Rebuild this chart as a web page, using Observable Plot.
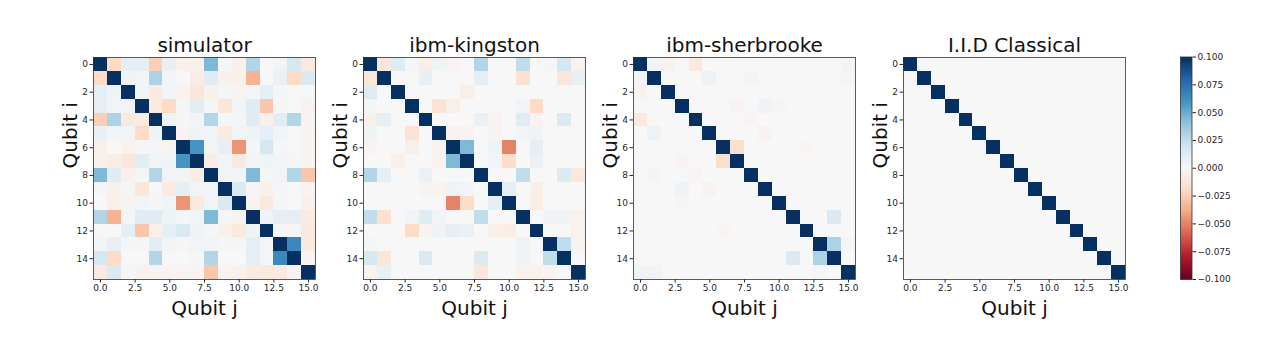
<!DOCTYPE html>
<html><head><meta charset="utf-8">
<script src="https://cdn.jsdelivr.net/npm/d3@7"></script>
<script src="https://cdn.jsdelivr.net/npm/@observablehq/plot@0.6"></script>
<style>
body{margin:0;background:#fff;}
#chart{position:relative;width:1288px;height:354px;font-family:"DejaVu Sans",sans-serif;overflow:hidden;}
#chart svg{position:absolute;top:0;overflow:visible;}
</style></head><body><div id="chart"></div>
<script>
const titles = ["simulator", "ibm-kingston", "ibm-sherbrooke", "I.I.D Classical"];
const xTicks = [0, 2.5, 5, 7.5, 10, 12.5, 15];
const yTicks = [0, 2, 4, 6, 8, 10, 12, 14];
const colorbarTicks = [-0.1, -0.075, -0.05, -0.025, 0, 0.025, 0.05, 0.075, 0.1];

const simulator = [
 [1, -0.02, 0.01, 0.01, -0.025, 0.008, -0.005, -0.005, 0.045, 0.002, -0.005, 0.03, 0, 0.003, 0.018, -0.01],
 [-0.02, 1, 0.005, 0.003, 0.032, 0.003, 0, -0.008, 0.012, -0.005, -0.005, -0.035, 0, 0.008, -0.02, 0.015],
 [0.01, 0.005, 1, 0.003, -0.01, 0.003, -0.004, -0.012, -0.005, 0.002, -0.003, 0.002, 0.01, 0.002, 0, 0.001],
 [0.01, 0.003, 0.003, 1, -0.009, -0.02, 0.002, 0.011, 0.002, -0.012, 0.003, 0.012, -0.028, 0.002, 0, -0.004],
 [-0.025, 0.032, -0.01, -0.009, 1, 0.005, 0.002, 0.003, 0.03, 0.001, 0.002, 0.012, -0.005, 0.011, 0.03, -0.003],
 [0.008, 0.003, 0.003, -0.02, 0.005, 1, -0.003, 0.004, 0.003, -0.009, 0.003, 0.005, 0.01, 0.003, 0.001, -0.003],
 [-0.005, 0, -0.004, 0.002, 0.002, -0.003, 1, 0.06, 0.003, 0.009, -0.045, 0.002, 0.018, 0.002, 0, -0.003],
 [-0.005, -0.008, -0.012, 0.011, 0.003, 0.004, 0.06, 1, -0.008, 0.003, -0.01, 0.003, 0.005, 0.003, 0.002, -0.003],
 [0.045, 0.012, -0.005, 0.002, 0.03, 0.003, 0.003, -0.008, 1, 0.003, 0.003, 0.045, 0.002, 0.003, 0.03, -0.028],
 [0.002, -0.005, 0.002, -0.012, 0.001, -0.009, 0.009, 0.003, 0.003, 1, 0.015, 0.002, -0.005, 0.002, 0, -0.003],
 [0, -0.005, -0.003, 0.003, 0.002, 0.003, -0.045, -0.01, 0.003, 0.015, 1, -0.003, -0.01, 0.002, 0, -0.005],
 [0.03, -0.035, 0.002, 0.012, 0.012, 0.005, 0.002, 0.003, 0.045, 0.002, -0.003, 1, 0.005, 0.01, 0.01, -0.009],
 [0, 0, 0.01, -0.028, -0.005, 0.01, 0.016, 0.004, 0.002, -0.005, -0.01, 0.005, 1, 0.002, 0.002, -0.01],
 [0.003, 0.008, 0.002, 0.002, 0.011, 0.003, 0.002, 0.003, 0.003, 0.002, 0.002, 0.01, 0.002, 1, 0.065, -0.01],
 [0.018, -0.02, 0, 0, 0.03, 0.001, 0, 0.002, 0.03, 0, 0, 0.01, 0.002, 0.065, 1, -0.003],
 [-0.01, 0.015, 0.001, -0.004, -0.003, -0.003, -0.003, -0.003, -0.028, -0.003, -0.005, -0.009, -0.01, -0.01, -0.003, 1]
];

const kingston = [
 [1, -0.012, 0.013, 0.002, -0.006, 0.005, -0.003, 0, 0.03, 0, 0, 0.025, 0, 0.002, 0.018, -0.004],
 [-0.012, 1, 0, 0, 0.009, 0, 0, 0, 0.01, 0, 0, -0.016, 0, 0, -0.012, 0.008],
 [0.013, 0, 1, 0, 0, 0, 0, -0.006, 0, 0, 0, 0, 0, 0, 0, 0],
 [0.002, 0, 0, 1, 0, -0.015, -0.006, 0, 0, 0, 0, 0.003, -0.02, 0, 0, 0],
 [-0.006, 0.009, 0, 0, 1, 0, 0, 0, 0.007, -0.003, 0, 0.012, -0.003, 0, 0.015, 0],
 [0.005, 0, 0, -0.015, 0, 1, -0.004, -0.003, 0, -0.003, 0, 0.003, 0.004, 0, 0, 0],
 [-0.003, 0, 0, -0.006, 0, -0.004, 1, 0.045, 0, 0.004, -0.05, 0, 0.01, 0, 0, 0],
 [0, 0, -0.006, 0, 0, -0.003, 0.045, 1, 0, 0.003, -0.019, 0, 0.007, 0, 0, 0],
 [0.03, 0.01, 0, 0, 0.007, 0, 0, 0, 1, 0, 0, 0.025, 0, 0, 0.014, -0.011],
 [0, 0, 0, 0, -0.003, -0.003, 0.004, 0.003, 0, 1, 0.01, 0, -0.006, 0, 0, 0],
 [0, 0, 0, 0, 0, 0, -0.05, -0.019, 0, 0.01, 1, 0, -0.007, 0, 0, 0],
 [0.025, -0.016, 0, 0.003, 0.012, 0.003, 0, 0, 0.025, 0, 0, 1, 0, 0.004, 0.004, -0.004],
 [0, 0, 0, -0.02, -0.003, 0.004, 0.01, 0.007, 0, -0.006, -0.007, 0, 1, 0, 0, -0.004],
 [0.002, 0, 0, 0, 0, 0, 0, 0, 0, 0, 0, 0.004, 0, 1, 0.025, -0.003],
 [0.018, -0.012, 0, 0, 0.015, 0, 0, 0, 0.014, 0, 0, 0.004, 0, 0.025, 1, 0],
 [-0.004, 0.008, 0, 0, 0, 0, 0, 0, -0.011, 0, 0, -0.004, -0.004, -0.003, 0, 1]
];

const sherbrooke = [
 [1, 0.003, -0.004, 0, -0.01, 0, 0, 0, 0, 0, 0, 0, 0, 0, 0, 0.003],
 [0.003, 1, 0, 0, 0, 0.006, 0, 0, -0.003, 0, 0, 0, 0, 0, 0, 0.002],
 [-0.004, 0, 1, 0, 0, 0, 0, 0, 0, 0, 0, 0, 0, 0, 0, 0],
 [0, 0, 0, 1, 0, 0, 0, -0.003, 0, 0.004, -0.002, 0, 0, 0, 0, 0],
 [-0.01, 0, 0, 0, 1, 0, 0, 0, -0.003, 0, 0, 0, 0, 0, 0, 0],
 [0, 0.006, 0, 0, 0, 1, 0, 0, 0, -0.004, 0, 0, 0, 0, 0, 0],
 [0, 0, 0, 0, 0, 0, 1, -0.018, 0, 0, 0, 0, -0.002, 0, 0, 0],
 [0, 0, 0, -0.003, 0, 0, -0.018, 1, 0, 0, 0, 0, 0, 0, 0, 0],
 [0, -0.003, 0, 0, -0.003, 0, 0, 0, 1, 0, 0, 0, 0, 0, 0, 0],
 [0, 0, 0, 0.004, 0, -0.004, 0, 0, 0, 1, 0, 0, 0, 0, 0, 0],
 [0, 0, 0, -0.002, 0, 0, 0, 0, 0, 0, 1, 0, 0, 0, 0, 0],
 [0, 0, 0, 0, 0, 0, 0, 0, 0, 0, 0, 1, 0, 0, 0.015, 0],
 [0, 0, 0, 0, 0, 0, -0.002, 0, 0, 0, 0, 0, 1, 0, 0, 0],
 [0, 0, 0, 0, 0, 0, 0, 0, 0, 0, 0, 0, 0, 1, 0.032, 0.002],
 [0, 0, 0, 0, 0, 0, 0, 0, 0, 0, 0, 0.015, 0, 0.032, 1, 0],
 [0.004, 0.004, 0, 0, 0, 0, 0, 0, 0, 0, 0, 0, 0, 0.002, 0, 1]
];

const iidClassical = [
 [1,0,0,0,0,0,0,0,0,0,0,0,0,0,0,0],
 [0,1,0,0,0,0,0,0,0,0,0,0,0,0,0,0],
 [0,0,1,0,0,0,0,0,0,0,0,0,0,0,0,0],
 [0,0,0,1,0,0,0,0,0,0,0,0,0,0,0,0],
 [0,0,0,0,1,0,0,0,0,0,0,0,0,0,0,0],
 [0,0,0,0,0,1,0,0,0,0,0,0,0,0,0,0],
 [0,0,0,0,0,0,1,0,0,0,0,0,0,0,0,0],
 [0,0,0,0,0,0,0,1,0,0,0,0,0,0,0,0],
 [0,0,0,0,0,0,0,0,1,0,0,0,0,0,0,0],
 [0,0,0,0,0,0,0,0,0,1,0,0,0,0,0,0],
 [0,0,0,0,0,0,0,0,0,0,1,0,0,0,0,0],
 [0,0,0,0,0,0,0,0,0,0,0,1,0,0,0,0],
 [0,0,0,0,0,0,0,0,0,0,0,0,1,0,0,0],
 [0,0,0,0,0,0,0,0,0,0,0,0,0,1,0,0],
 [0,0,0,0,0,0,0,0,0,0,0,0,0,0,1,0],
 [0,0,0,0,0,0,0,0,0,0,0,0,0,0,0,1]
];

const matrices = [simulator, kingston, sherbrooke, iidClassical];

// matplotlib RdBu stops (piecewise linear, -0.1 .. 0.1)
const rdbuStops = ["#67001f", "#b2182b", "#d6604d", "#f4a582", "#fddbc7", "#f7f7f7", "#d1e5f0", "#92c5de", "#4393c3", "#2166ac", "#053061"];
const colorScale = {
  type: "linear",
  domain: rdbuStops.map((_, q) => -0.1 + q * 0.02),
  range: rdbuStops,
  interpolate: "rgb",
  clamp: true
};
const baseStyle = {fontFamily: "DejaVu Sans, sans-serif", fontSize: "9px", color: "#262626", background: "transparent", overflow: "visible"};
const chart = document.getElementById("chart");

const frameLefts = [93.3, 363.3, 633.3, 903.3];
const mL = 73, frameW = 222, svgW = 300;

matrices.forEach((m, k) => {
  const cells = [];
  m.forEach((row, i) => row.forEach((v, j) => cells.push({i, j, v})));
  const svg = Plot.plot({
    width: svgW, height: 354,
    marginLeft: mL, marginRight: svgW - mL - frameW, marginTop: 57, marginBottom: 75,
    style: baseStyle,
    x: {domain: [-0.5, 15.5], ticks: xTicks, tickFormat: d3.format(".1f"), tickSize: 3.5, tickPadding: 2, label: null},
    y: {domain: [-0.5, 15.5], reverse: true, ticks: yTicks, tickSize: 3.5, tickPadding: 2, label: null},
    color: colorScale,
    marks: [
      Plot.rect(cells, {x1: d => d.j - 0.5, x2: d => d.j + 0.5, y1: d => d.i - 0.5, y2: d => d.i + 0.5, fill: "v", shapeRendering: "crispEdges"}),
      Plot.frame({stroke: "#333", strokeWidth: 0.8}),
      Plot.text([titles[k]], {text: d => d, frameAnchor: "top", dy: -12, fontSize: 20, lineAnchor: "middle", fill: "#111"}),
      Plot.text(["Qubit j"], {text: d => d, frameAnchor: "bottom", dy: 29, fontSize: 20, lineAnchor: "middle", fill: "#111"}),
      Plot.text(["Qubit i"], {text: d => d, frameAnchor: "left", dx: -23, rotate: -90, fontSize: 20, lineAnchor: "middle", fill: "#111"})
    ]
  });
  svg.style.left = (frameLefts[k] - mL) + "px";
  chart.appendChild(svg);
});

// colorbar
const cbL = 30, cbW = 11.5, cbSvgW = 140;
const cb = Plot.plot({
  width: cbSvgW, height: 354,
  marginLeft: cbL, marginRight: cbSvgW - cbL - cbW, marginTop: 56.5, marginBottom: 75,
  style: baseStyle,
  x: {domain: [0, 1], axis: null},
  y: {domain: [-0.1, 0.1], ticks: colorbarTicks, tickFormat: d3.format(".3f"), axis: "right", tickSize: 3.5, tickPadding: 2, label: null},
  color: colorScale,
  marks: [
    Plot.raster({x1: 0, x2: 1, y1: -0.1, y2: 0.1, width: 1, height: 256, fill: (x, y) => y}),
    Plot.frame({stroke: "#333", strokeWidth: 0.8})
  ]
});
cb.style.left = (1179.5 - cbL) + "px";
chart.appendChild(cb);
</script></body></html>
